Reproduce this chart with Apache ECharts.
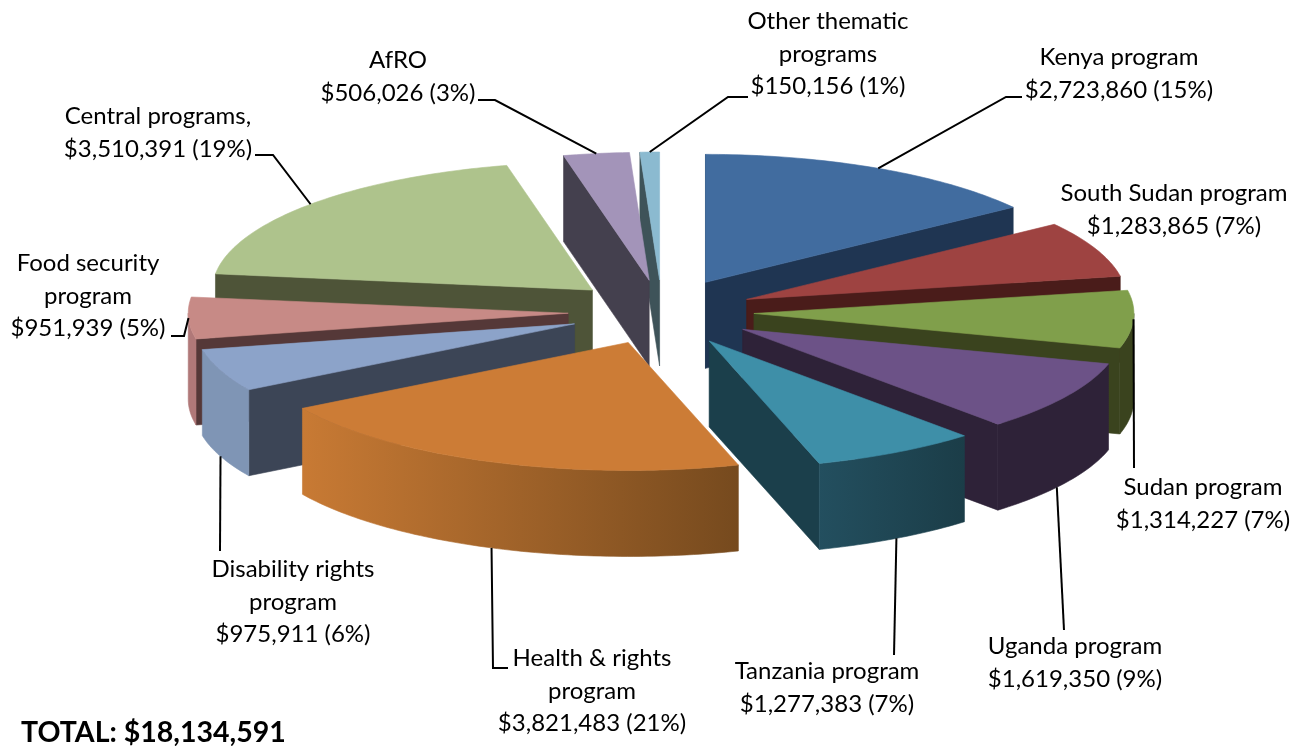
<!DOCTYPE html>
<html>
<head>
<meta charset="utf-8">
<script src="https://cdn.jsdelivr.net/npm/echarts@6/dist/echarts.min.js"></script>
<style>
  html, body { margin: 0; padding: 0; background: #fff; }
  #chart { width: 1308px; height: 746px; }
</style>
</head>
<body>
<div id="chart"></div>
<script>
// ==================== Data ====================
const categories = [
  'Kenya program', 'South Sudan program', 'Sudan program', 'Uganda program',
  'Tanzania program', 'Health & rights\nprogram', 'Disability rights\nprogram',
  'Food security\nprogram', 'Central programs,', 'AfRO', 'Other thematic\nprograms'
];
const values = [2723860, 1283865, 1314227, 1619350, 1277383, 3821483, 975911, 951939, 3510391, 506026, 150156];
const valueLabels = ['$2,723,860', '$1,283,865', '$1,314,227', '$1,619,350', '$1,277,383', '$3,821,483', '$975,911', '$951,939', '$3,510,391', '$506,026', '$150,156'];
const percentLabels = ['15%', '7%', '7%', '9%', '7%', '21%', '6%', '5%', '19%', '3%', '1%'];
const totalLabel = 'TOTAL: $18,134,591';

// ==================== Colours ====================
const topColors = ['#416C9F', '#9E4341', '#809F4B', '#6C5287', '#3E8FA8', '#CC7C36', '#8CA3C9', '#C78A86', '#AEC38C', '#A394B9', '#8BBAD0'];
const wallColors = ['#1F3552', '#4A1C1A', '#3A431E', '#2E2238', '#1B3F4B', '#764A1E', '#3C4556', '#553838', '#4E5438', '#44404E', '#3E5359'];
const rimColors = [
  ['#1F3552', '#1F3552'], ['#4A1C1A', '#4A1C1A'], ['#3A431E', '#3A431E'], ['#2E2238', '#2E2238'],
  ['#234F5F', '#1B3D48'], ['#C87A34', '#764A1E'], ['#7F95B5', '#7F95B5'], ['#B07878', '#B07878'],
  ['#4E5438', '#4E5438'], ['#44404E', '#44404E'], ['#3E5359', '#3E5359']
];

// ==================== Projection of the tilted pie ====================
const CX = 662, CY = 312;          // pie centre before explosion
const RX = 380, RY = 128;          // ellipse radii of the top face
const EX = 92, EY = 32;            // explosion distance, on the same ellipse
const DEPTH = 86;                  // height of the extruded wall
const explodeScale = [1.04, 1, 1, 1.03, 1.04, 1.02, 1.02, 1.02, 1.02, 1, 1];

const total = values.reduce((a, b) => a + b, 0);
const slices = [];
let acc = 0;
values.forEach((v, i) => {
  const start = acc / total * 360;
  acc += v;
  const end = acc / total * 360;
  slices.push({ start, end, mid: (start + end) / 2, explode: explodeScale[i] });
});

const rad = (d) => d * Math.PI / 180;

function apexOf(s) {
  return [CX + s.explode * EX * Math.sin(rad(s.mid)), CY - s.explode * EY * Math.cos(rad(s.mid))];
}
function rimPoint(s, deg) {
  const a = apexOf(s);
  return [a[0] + RX * Math.sin(rad(deg)), a[1] - RY * Math.cos(rad(deg))];
}
const drop = (p) => [p[0], p[1] + DEPTH];

// back slices first, front slices last
const drawOrder = slices.map((s, i) => i)
  .sort((a, b) => Math.abs(slices[b].mid - 180) - Math.abs(slices[a].mid - 180));

function rimPoints(s, from, to) {
  const pts = [];
  for (let d = from; d < to; d += 1) pts.push(rimPoint(s, d));
  pts.push(rimPoint(s, to));
  return pts;
}

// a radial cut face shows only when the slice lies above its edge on screen
function wallVisible(apex, edge, inner) {
  const cross = (edge[0] - apex[0]) * (inner[1] - apex[1]) - (edge[1] - apex[1]) * (inner[0] - apex[0]);
  return edge[0] > apex[0] ? cross < 0 : cross > 0;
}

function poly(points, fill) {
  return { type: 'polygon', silent: true, shape: { points }, style: { fill, stroke: fill, lineWidth: 0.6 } };
}

function renderSlice(params) {
  const i = drawOrder[params.dataIndex];
  const s = slices[i];
  const apex = apexOf(s);
  const children = [];

  // radial cut faces
  const midRim = rimPoint(s, s.mid);
  [s.start, s.end].forEach((deg) => {
    const edge = rimPoint(s, deg);
    if (wallVisible(apex, edge, midRim)) {
      children.push(poly([apex, edge, drop(edge), drop(apex)], wallColors[i]));
    }
  });

  // outer curved wall, only the part facing the viewer
  const from = Math.max(s.start, 90), to = Math.min(s.end, 270);
  if (to > from) {
    const rim = rimPoints(s, from, to);
    const left = rim[0][0] < rim[rim.length - 1][0] ? rim : rim.slice().reverse();
    children.push(poly(left.concat(left.map(drop).reverse()), {
      type: 'linear', x: 0, y: 0, x2: 1, y2: 0,
      colorStops: [
        { offset: 0, color: rimColors[i][0] },
        { offset: 1, color: rimColors[i][1] }
      ]
    }));
  }

  // top face
  children.push(poly([apex].concat(rimPoints(s, s.start, s.end)), topColors[i]));
  return { type: 'group', children };
}

// ==================== Labels and leader lines ====================
const FONT = 'Lato, "Open Sans", sans-serif';
const labelCentres = [
  [1119, 74], [1174, 210], [1203, 504], [1075, 663], [827, 688],
  [592, 691], [293, 602], [88, 296], [158, 133], [398, 77], [828, 54]
];
// elbow points of each leader, after its anchor on the slice
const leaderBends = [
  [[1006, 97], [1022, 97]], null, [[1134, 468]], [[1064, 630]], [[894, 655]],
  [[493, 668], [508, 668]], [[220, 551]], [[184, 336], [171, 336]],
  [[273, 155], [255, 155]], [[495, 100], [478, 100]], [[728, 97], [748, 97]]
];
const leaderShift = [0, 0, 0, 2.5, 0, 0, 0, 0, 0, 0, 0];

const graphicElements = [];
categories.forEach((name, i) => {
  graphicElements.push({
    type: 'text', silent: true, z: 10,
    x: labelCentres[i][0], y: labelCentres[i][1],
    style: {
      text: name + '\n' + valueLabels[i] + ' (' + percentLabels[i] + ')',
      font: '24px ' + FONT, fill: '#000', align: 'center', verticalAlign: 'middle',
      lineHeight: 32.5
    }
  });
  if (leaderBends[i]) {
    const s = slices[i];
    const p = rimPoint(s, s.mid + leaderShift[i]);
    const anchor = Math.abs(s.mid - 180) < 70 ? drop(p) : p;
    graphicElements.push({
      type: 'polyline', silent: true, z: 10,
      shape: { points: [anchor].concat(leaderBends[i]) },
      style: { stroke: '#000', lineWidth: 2, fill: null }
    });
  }
});
graphicElements.push({
  type: 'text', silent: true, z: 10, x: 21, y: 733,
  style: { text: totalLabel, font: 'bold 28.5px ' + FONT, fill: '#000', align: 'left', verticalAlign: 'middle' }
});

// ==================== Chart ====================
const chart = echarts.init(document.getElementById('chart'), null, { renderer: 'canvas' });
chart.setOption({
  animation: false,
  backgroundColor: '#fff',
  graphic: { elements: graphicElements },
  series: [{
    type: 'custom',
    coordinateSystem: 'none',
    silent: true,
    renderItem: renderSlice,
    data: drawOrder.map((i) => [i, values[i]])
  }]
});
</script>
</body>
</html>
